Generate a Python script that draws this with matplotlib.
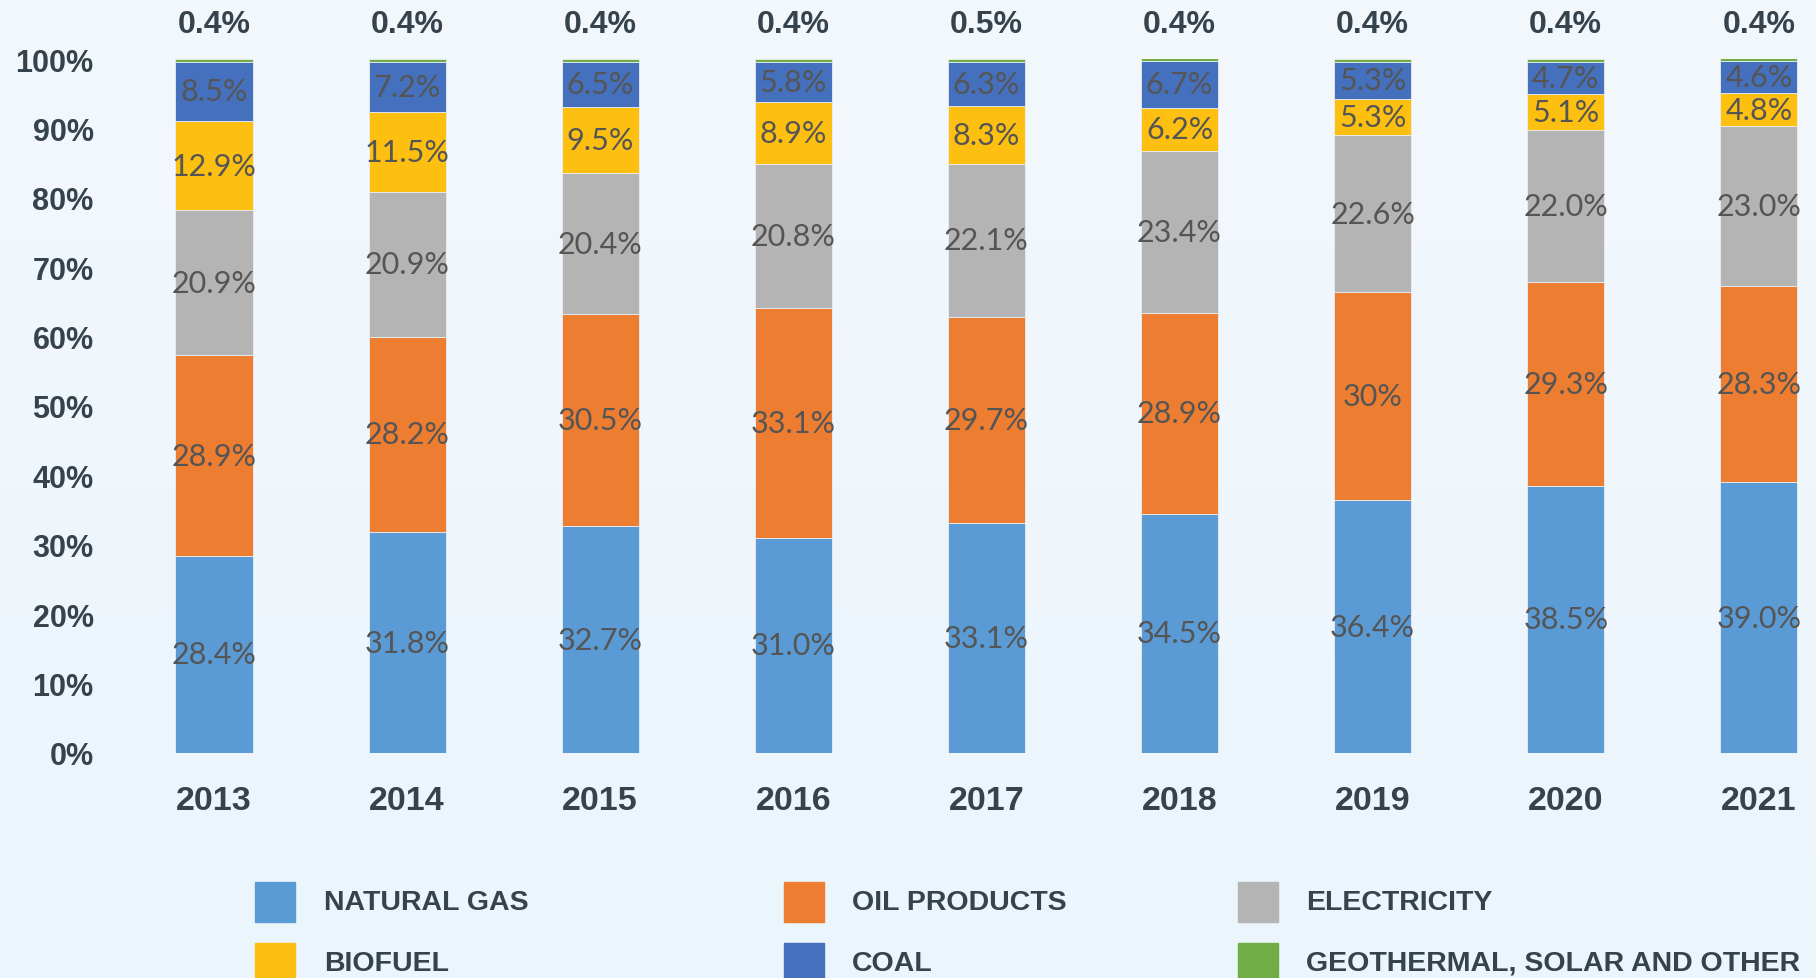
import numpy as np
import matplotlib.pyplot as plt
from matplotlib.patches import Rectangle
from matplotlib.transforms import blended_transform_factory

# Data (shares of final energy consumption, %)
years = ['2013', '2014', '2015', '2016', '2017', '2018', '2019', '2020', '2021']
natural_gas = [28.4, 31.8, 32.7, 31.0, 33.1, 34.5, 36.4, 38.5, 39.0]
oil_products = [28.9, 28.2, 30.5, 33.1, 29.7, 28.9, 30.0, 29.3, 28.3]
electricity = [20.9, 20.9, 20.4, 20.8, 22.1, 23.4, 22.6, 22.0, 23.0]
biofuel = [12.9, 11.5, 9.5, 8.9, 8.3, 6.2, 5.3, 5.1, 4.8]
coal = [8.5, 7.2, 6.5, 5.8, 6.3, 6.7, 5.3, 4.7, 4.6]
other = [0.4, 0.4, 0.4, 0.4, 0.5, 0.4, 0.4, 0.4, 0.4]

series_names = ['NATURAL GAS', 'OIL PRODUCTS', 'ELECTRICITY', 'BIOFUEL', 'COAL',
                'GEOTHERMAL, SOLAR AND OTHER']
series_colors = ['#5b9bd5', '#ed7d31', '#b4b4b4', '#fdc010', '#4570bd', '#70ad47']

# label text overrides (the source shows "30%" for 2019 oil)
label_override = {('OIL PRODUCTS', 6): '30%'}

DARK = '#36434c'
INNER = '#555555'

fig = plt.figure(figsize=(18.16, 9.79), dpi=100)
fig.patch.set_facecolor('#eef6fc')

# soft background gradient
bg = fig.add_axes([0, 0, 1, 1], zorder=-10)
grad = np.linspace(0, 1, 256).reshape(-1, 1)
bg.imshow(grad, aspect='auto', cmap=plt.matplotlib.colors.LinearSegmentedColormap.from_list(
    'bg', ['#f3f8fc', '#ebf5fd']), extent=[0, 1, 0, 1])
bg.set_axis_off()

W, H = 1816, 979
left, right, top, bottom = 120, 1816, 60, 754
ax = fig.add_axes([left / W, 1 - bottom / H, (right - left) / W, (bottom - top) / H])
ax.patch.set_alpha(0)

x = np.arange(len(years))
data = [natural_gas, oil_products, electricity, biofuel, coal, other]
base = np.zeros(len(years))
for name, vals, col in zip(series_names, data, series_colors):
    vals = np.array(vals)
    ax.bar(x, vals, 0.4, bottom=base, color=col, edgecolor='#e8eef4', linewidth=0.6)
    if name != series_names[-1]:
        for i, v in enumerate(vals):
            txt = label_override.get((name, i), '{:.1f}%'.format(v))
            ax.text(x[i], base[i] + v / 2, txt, ha='center', va='center',
                    fontsize=22, color=INNER, family='Lato')
    base = base + vals

# top labels for the small "other" share
trans = blended_transform_factory(ax.transData, ax.transAxes)
for i, v in enumerate(other):
    ax.text(x[i], 1.050, '{:.1f}%'.format(v), transform=trans, ha='center', va='center',
            fontsize=23, fontweight='bold', color=DARK, family='Liberation Sans')

ax.set_xlim(-0.487, 8.296)
ax.set_ylim(0, 100)
ax.set_xticks(x)
ax.set_xticklabels(years)
ax.set_yticks(np.arange(0, 101, 10))
ax.set_yticklabels(['{}%'.format(v) for v in range(0, 101, 10)])
ax.tick_params(axis='both', length=0, colors=DARK)
ax.tick_params(axis='y', pad=19)
ax.tick_params(axis='x', pad=23)
for lab in ax.get_xticklabels():
    lab.set_fontsize(24.5)
    lab.set_fontweight('bold')
    lab.set_family('Liberation Sans')
for lab in ax.get_yticklabels():
    lab.set_fontsize(22)
    lab.set_fontweight('bold')
    lab.set_family('Liberation Sans')
for s in ax.spines.values():
    s.set_visible(False)

# legend, laid out in 3 columns x 2 rows
col_patch_x = [255, 784, 1238]
col_text_x = [324, 852, 1306]
row_y = [903, 964]
order = [[0, 1, 2], [3, 4, 5]]
for r, row in enumerate(order):
    for c, idx in enumerate(row):
        fig.add_artist(Rectangle(((col_patch_x[c]) / W, 1 - (row_y[r] + 20) / H), 40 / W, 40 / H,
                                 transform=fig.transFigure, color=series_colors[idx]))
        fig.text(col_text_x[c] / W, 1 - row_y[r] / H, series_names[idx], ha='left', va='center',
                 fontsize=20.5, fontweight='bold', color=DARK, family='Liberation Sans')

fig.savefig('out.png', dpi=100, facecolor=fig.get_facecolor())
